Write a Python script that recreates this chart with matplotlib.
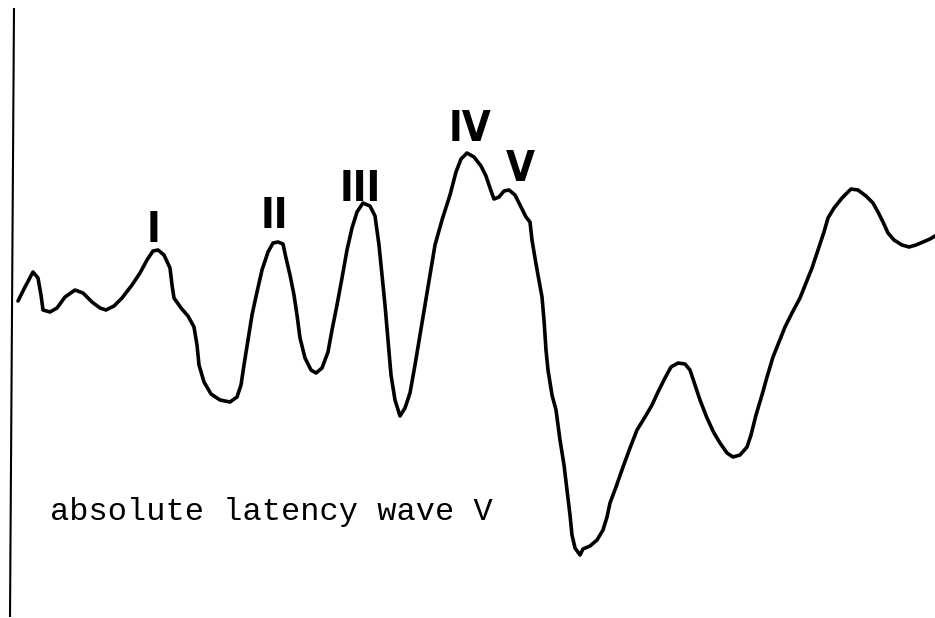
import numpy as np
import matplotlib
matplotlib.use("Agg")
import matplotlib.pyplot as plt

# Hand-traced ABR waveform (image units: x to the right, y downwards)
trace_x = [18, 25, 33, 38, 41, 43, 50, 57, 65, 75, 83, 92, 100, 106, 114, 122,
           132, 140, 147, 153, 158, 164, 170, 172, 174, 181, 188, 194, 197, 199,
           204, 211, 220, 230, 237, 241, 244, 248, 252, 257, 262, 268, 273, 278,
           283, 286, 290, 294, 297, 300, 305, 311, 316, 322, 328, 332, 337, 342,
           347, 352, 357, 363, 370, 375, 379, 382, 385, 388, 391, 395, 400, 405,
           410, 415, 420, 425, 430, 435, 442, 450, 456, 461, 467, 474, 481, 486,
           490, 494, 499, 504, 509, 515, 521, 526, 530, 532, 535, 538, 542, 544,
           546, 548, 552, 556, 560, 564, 567, 570, 572, 575, 580, 583, 590, 597,
           603, 607, 610, 616, 623, 630, 637, 645, 652, 658, 665, 671, 678, 685,
           690, 694, 700, 707, 714, 720, 727, 733, 740, 747, 751, 756, 762, 767,
           773, 779, 785, 792, 800, 806, 812, 818, 824, 828, 834, 842, 851, 858,
           866, 873, 878, 883, 888, 894, 902, 909, 916, 923, 930, 935]
trace_y = [301, 287, 272, 278, 295, 310, 312, 308, 297, 290, 293, 302, 308, 310, 306, 298,
           285, 273, 260, 251, 250, 255, 268, 285, 298, 308, 316, 327, 345, 365,
           382, 394, 400, 402, 397, 385, 365, 340, 315, 292, 270, 252, 243, 242,
           244, 258, 275, 295, 315, 338, 358, 370, 373, 368, 352, 330, 305, 278,
           250, 228, 212, 203, 206, 216, 245, 275, 305, 340, 375, 400, 416, 408,
           393, 365, 335, 305, 275, 245, 220, 195, 172, 159, 153, 157, 166, 176,
           188, 199, 197, 191, 190, 195, 207, 217, 222, 240, 258, 275, 297, 320,
           350, 370, 395, 410, 440, 465, 490, 515, 535, 548, 555, 549, 546, 540,
           530, 517, 503, 487, 467, 448, 430, 417, 405, 392, 378, 367, 363, 364,
           370, 382, 400, 418, 433, 443, 453, 457, 455, 447, 435, 415, 395, 377,
           357, 342, 327, 313, 298, 283, 268, 250, 232, 218, 208, 198, 189, 190,
           196, 203, 212, 222, 233, 240, 245, 247, 245, 242, 239, 236]

# peak labels and where they sit
peak_labels = ["I", "II", "III", "IV", "V"]
peak_label_x = [153, 274, 360, 470, 520]
peak_label_y = [242, 228, 201, 141, 181]

caption = "absolute latency wave V"

fig = plt.figure(figsize=(9.35, 6.18), dpi=100)
ax = fig.add_axes([0, 0, 1, 1])
ax.set_xlim(0, 935)
ax.set_ylim(618, 0)
ax.axis("off")

# left vertical baseline, drawn by hand so slightly slanted
ax.plot([14, 10], [8, 617], color="black", lw=1.5, solid_capstyle="butt")

ax.plot(trace_x, trace_y, color="black", lw=2.6,
        solid_joinstyle="round", solid_capstyle="round")

for lab, lx, ly in zip(peak_labels, peak_label_x, peak_label_y):
    ax.text(lx, ly, lab, ha="center", va="baseline", fontsize=30,
            family="DejaVu Sans", fontstretch="condensed", fontweight="bold",
            color="black")

ax.text(50, 520, caption, ha="left", va="baseline", fontsize=23,
        family="Liberation Mono", color="black")

fig.savefig("out.png", dpi=100, facecolor="white")
